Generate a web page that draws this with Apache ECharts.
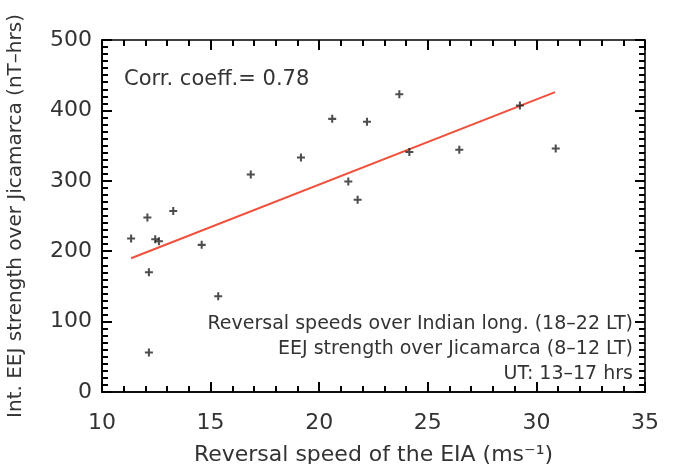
<!DOCTYPE html>
<html>
<head>
<meta charset="utf-8">
<script src="https://cdn.jsdelivr.net/npm/echarts@6/dist/echarts.min.js"></script>
<style>
html,body{margin:0;padding:0;background:#fff;}
#chart{width:675px;height:464px;}
</style>
</head>
<body>
<div id="chart"></div>
<script>
// Data
const speeds = [11.34, 12.09, 12.16, 12.45, 12.62, 13.28, 14.59, 15.35, 12.16, 16.85, 19.16, 20.60, 21.34, 21.77, 22.20, 23.69, 24.15, 26.45, 29.24, 30.89];
const eejStrength = [218, 248, 170, 217, 214, 257, 209, 136, 56, 309, 333, 388, 299, 273, 384, 423, 341, 344, 407, 346];
const fitX = [11.34, 30.86];
const fitY = [190, 426];
const xTicks = [10, 15, 20, 25, 30, 35];
const yTicks = [0, 100, 200, 300, 400, 500];
const xMinorPerMajor = 5;
const yMinorPerMajor = 10;
const corrText = 'Corr. coeff.= 0.78';
const noteLines = ['Reversal speeds over Indian long. (18–22 LT)', 'EEJ strength over Jicamarca (8–12 LT)', 'UT: 13–17 hrs'];
const xTitle = 'Reversal speed of the EIA (ms⁻¹)';
const yTitle = 'Int. EEJ strength over Jicamarca (nT–hrs)';

const FONT = 'DejaVu Sans';
const chart = echarts.init(document.getElementById('chart'), null, {renderer: 'canvas'});
const pts = speeds.map((s, i) => [s, eejStrength[i]]);
const fit = fitX.map((x, i) => [x, fitY[i]]);
const xMin = xTicks[0], xMax = xTicks[xTicks.length - 1];
const yMin = yTicks[0], yMax = yTicks[yTicks.length - 1];

function ax(pos, min, max, interval, minorSplit, extra) {
  return Object.assign({
    type: 'value', position: pos, min: min, max: max, interval: interval,
    axisLine: {show: true, onZero: false, lineStyle: {color: '#000', width: 1.6}},
    axisTick: {show: true, inside: true, length: 10, lineStyle: {color: '#000', width: 2}},
    minorTick: {show: true, splitNumber: minorSplit, length: 6, lineStyle: {color: '#000', width: 2}},
    axisLabel: {show: false},
    splitLine: {show: false}
  }, extra || {});
}

const option = {
  animation: false,
  backgroundColor: '#fff',
  grid: {left: 102, right: 30, top: 40, bottom: 72, containLabel: false, outerBoundsMode: 'none'},
  xAxis: [
    ax('bottom', xMin, xMax, 5, xMinorPerMajor, {
      axisLabel: {show: true, color: '#333', fontFamily: FONT, fontSize: 22, margin: 20},
      name: xTitle, nameLocation: 'middle', nameGap: 52,
      nameTextStyle: {color: '#333', fontFamily: FONT, fontSize: 22}
    }),
    ax('top', xMin, xMax, 5, xMinorPerMajor),
    ax('bottom', xMin, xMax, 5, xMinorPerMajor)
  ],
  yAxis: [
    ax('left', yMin, yMax, 100, yMinorPerMajor, {
      axisLabel: {show: true, color: '#333', fontFamily: FONT, fontSize: 22, margin: 10},
      name: yTitle, nameLocation: 'middle', nameGap: 76, nameRotate: 90,
      nameTextStyle: {color: '#333', fontFamily: FONT, fontSize: 20}
    }),
    ax('right', yMin, yMax, 100, yMinorPerMajor),
    ax('left', yMin, yMax, 100, yMinorPerMajor)
  ],
  series: [
    {
      type: 'line', data: fit, xAxisIndex: 0, yAxisIndex: 0, showSymbol: false, symbol: 'none',
      lineStyle: {color: '#f0503c', width: 2}, z: 2
    },
    {
      type: 'scatter', data: pts, xAxisIndex: 0, yAxisIndex: 0,
      symbol: 'path://M2.6,0 L4.4,0 L4.4,2.6 L7,2.6 L7,4.4 L4.4,4.4 L4.4,7 L2.6,7 L2.6,4.4 L0,4.4 L0,2.6 L2.6,2.6 Z',
      symbolSize: 8, itemStyle: {color: '#222'}, z: 3
    }
  ],
  graphic: [
    {type: 'text', left: 124, top: 69, style: {text: corrText, font: '21px "' + FONT + '"', fill: '#333'}},
    {type: 'text', right: 42, top: 315, style: {text: noteLines[0], font: '19px "' + FONT + '"', fill: '#333', textAlign: 'right'}},
    {type: 'text', right: 42, top: 340, style: {text: noteLines[1], font: '19px "' + FONT + '"', fill: '#333', textAlign: 'right'}},
    {type: 'text', right: 42, top: 365, style: {text: noteLines[2], font: '19px "' + FONT + '"', fill: '#333', textAlign: 'right'}}
  ]
};
chart.setOption(option);
</script>
</body>
</html>
